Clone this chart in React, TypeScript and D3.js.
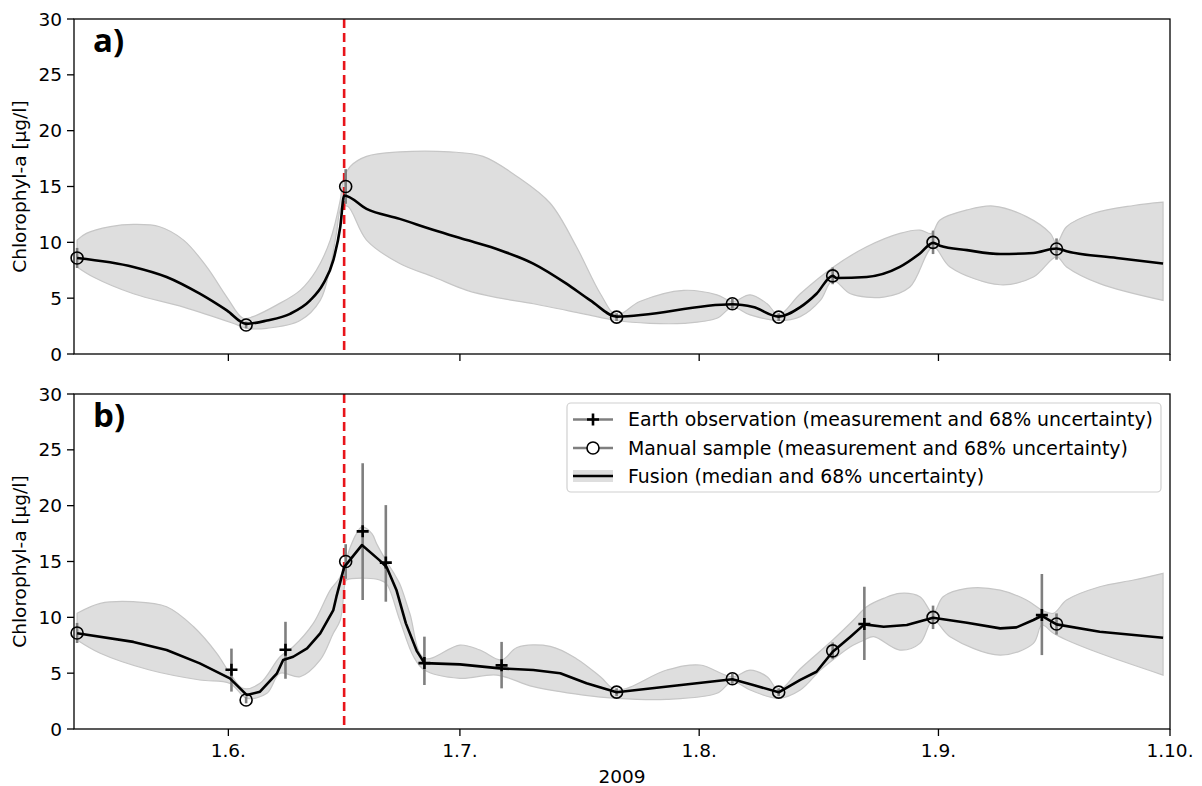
import React from "react";
import * as d3 from "d3";

// x values are day of year 2009 (fractional), y values chlorophyll-a in µg/l

const manualDoy = [132.4, 154.3, 167.2, 202.3, 217.3, 223.3, 230.3, 243.3, 259.3];
const manualVal = [8.6, 2.6, 15.0, 3.3, 4.5, 3.3, 7.0, 10.0, 9.4];
const manualErr = [0.9, 0.3, 1.55, 0.35, 0.45, 0.35, 0.75, 1.05, 0.95];

const eoDoy = [152.4, 159.4, 169.4, 172.4, 177.4, 187.4, 234.4, 257.4];
const eoVal = [5.3, 7.1, 17.7, 14.9, 5.9, 5.7, 9.4, 10.2];
const eoLow = [3.35, 4.5, 11.55, 11.4, 3.94, 3.64, 6.18, 6.62];
const eoHigh = [7.2, 9.6, 23.8, 20.05, 8.27, 7.8, 12.74, 13.88];

const bloomDoy = 167.0;

// panel a: fusion of manual samples only
const medianA: [number, number][] = [
  [132.4, 8.6], [139.7, 7.8], [144.0, 6.9], [148.3, 5.4], [151.8, 3.9], [154.3, 2.7],
  [157.0, 3.0], [160.0, 3.6], [162.6, 4.8], [164.3, 6.3], [165.6, 8.4], [166.5, 11.4],
  [167.0, 14.2], [169.9, 13.0], [174.2, 12.1], [178.6, 11.1], [182.9, 10.2], [187.2, 9.3],
  [191.5, 8.1], [195.8, 6.3], [198.9, 4.8], [202.3, 3.35], [217.3, 4.45], [220.0, 4.2],
  [223.3, 3.35], [226.1, 4.2], [228.2, 5.4], [230.3, 7.0], [230.8, 6.8], [234.7, 6.9],
  [239.0, 7.8], [241.6, 9.0], [243.3, 9.95], [244.2, 9.7], [247.7, 9.3], [252.0, 8.95],
  [256.3, 9.05], [259.3, 9.45], [260.6, 9.2], [267.1, 8.6], [273.1, 8.1],
];
const upperA: [number, number][] = [
  [132.4, 10.2], [133.6, 10.8], [136.7, 11.4], [139.7, 11.6], [143.1, 11.4], [146.2, 10.2],
  [149.2, 7.8], [151.8, 5.1], [153.9, 3.2], [155.2, 3.35], [158.3, 4.4], [161.3, 5.7],
  [163.4, 7.5], [165.2, 10.2], [166.5, 13.8], [166.9, 15.6], [167.8, 16.8], [169.9, 17.7],
  [174.2, 18.1], [180.7, 18.1], [185.0, 17.7], [189.4, 15.9], [193.7, 13.5], [197.1, 9.6],
  [200.2, 5.4], [202.3, 3.5], [205.3, 4.7], [211.0, 5.7], [215.3, 5.3], [217.3, 4.7],
  [219.6, 5.3], [221.8, 4.5], [223.3, 3.5], [226.1, 5.4], [230.4, 7.8], [234.7, 9.6],
  [239.0, 10.8], [241.6, 11.1], [243.1, 10.8], [244.2, 12.0], [247.7, 12.9], [251.1, 13.25],
  [255.4, 12.3], [258.5, 10.8], [259.3, 9.9], [260.6, 11.4], [264.1, 12.6], [269.3, 13.3],
  [273.1, 13.6],
];
const lowerA: [number, number][] = [
  [132.4, 7.8], [134.5, 6.9], [139.7, 5.4], [146.2, 4.2], [152.6, 2.75], [154.4, 2.3],
  [157.0, 2.3], [161.3, 3.0], [163.9, 4.8], [165.2, 7.8], [166.0, 10.8], [166.7, 13.2],
  [167.5, 13.2], [169.9, 10.2], [174.2, 8.1], [178.6, 6.9], [182.9, 5.7], [187.2, 5.0],
  [191.5, 4.5], [198.0, 3.6], [202.3, 3.0], [206.6, 2.75], [211.0, 2.75], [215.3, 3.2],
  [217.3, 4.2], [219.6, 3.5], [223.3, 3.0], [226.1, 3.35], [228.7, 4.8], [230.3, 6.6],
  [232.6, 5.4], [236.9, 5.1], [240.3, 6.0], [243.3, 9.6], [245.5, 7.8], [252.0, 6.2],
  [256.3, 6.9], [259.3, 8.7], [260.6, 7.8], [264.9, 6.3], [273.1, 4.8],
];

// panel b: fusion of manual samples and earth observation
const medianB: [number, number][] = [
  [132.4, 8.57], [139.7, 7.8], [144.0, 7.07], [148.3, 5.88], [152.2, 4.54], [154.4, 3.04],
  [156.1, 3.34], [158.3, 4.99], [159.1, 6.18], [160.4, 6.47], [162.2, 7.22], [163.9, 8.57],
  [165.6, 10.65], [166.0, 11.85], [167.0, 14.5], [169.3, 16.47], [171.6, 15.1], [172.5, 14.5],
  [173.8, 12.4], [175.0, 9.46], [176.4, 7.0], [177.4, 5.9], [182.0, 5.79], [187.2, 5.43],
  [191.5, 5.28], [195.0, 4.99], [198.4, 4.09], [202.3, 3.29], [217.3, 4.45], [220.0, 3.94],
  [223.3, 3.29], [226.1, 4.4], [228.2, 5.13], [230.3, 6.92], [232.6, 8.27], [234.4, 9.37],
  [236.9, 9.16], [239.9, 9.31], [243.3, 9.97], [247.7, 9.52], [252.0, 9.01], [254.1, 9.1],
  [256.3, 9.76], [257.4, 10.14], [259.3, 9.37], [264.9, 8.71], [273.1, 8.17],
];
const upperB: [number, number][] = [
  [132.4, 10.36], [135.4, 11.25], [139.7, 11.4], [144.0, 10.95], [147.5, 9.16], [150.5, 6.78],
  [152.2, 4.99], [153.9, 3.64], [156.1, 4.09], [158.7, 6.47], [160.4, 7.37], [163.0, 9.46],
  [165.2, 12.44], [166.5, 13.63], [167.8, 16.3], [168.6, 17.5], [169.3, 18.1], [170.6, 17.5],
  [171.2, 16.6], [172.5, 15.0], [173.4, 14.0], [174.2, 13.0], [175.5, 10.36], [177.4, 6.33],
  [182.0, 7.52], [184.6, 7.07], [187.4, 6.18], [189.4, 7.3], [193.7, 7.4], [197.1, 6.3],
  [200.2, 4.68], [202.3, 3.49], [208.8, 5.28], [213.1, 5.73], [217.3, 4.68], [219.6, 5.28],
  [221.8, 4.68], [223.3, 3.49], [226.1, 5.4], [230.3, 7.97], [233.0, 9.76], [234.7, 10.95],
  [236.9, 11.7], [239.0, 12.15], [241.6, 11.85], [243.3, 10.36], [244.6, 11.85], [247.7, 12.6],
  [252.0, 12.44], [255.4, 11.55], [257.4, 10.65], [258.9, 10.36], [260.6, 11.55], [264.9, 12.74],
  [269.3, 13.34], [273.1, 13.94],
];
const lowerB: [number, number][] = [
  [132.4, 7.97], [135.4, 6.78], [141.8, 5.28], [148.3, 4.39], [152.2, 4.09], [154.4, 2.75],
  [157.0, 3.2], [158.7, 4.99], [161.3, 4.68], [163.9, 6.18], [165.6, 8.57], [166.5, 9.76],
  [167.1, 13.0], [167.3, 13.34], [169.9, 13.5], [171.6, 13.34], [172.5, 13.0], [174.2, 9.76],
  [176.0, 6.47], [177.4, 5.28], [182.0, 4.54], [186.8, 4.83], [191.5, 3.79], [198.0, 3.04],
  [202.3, 2.75], [208.8, 2.66], [215.3, 3.2], [217.3, 4.24], [219.6, 3.49], [223.3, 2.75],
  [226.1, 3.49], [228.7, 5.28], [230.3, 6.18], [232.6, 7.37], [234.4, 7.97], [235.6, 8.27],
  [239.0, 7.07], [241.6, 7.67], [243.3, 9.76], [245.5, 8.27], [252.0, 6.62], [256.3, 7.67],
  [257.4, 9.31], [258.9, 8.57], [260.6, 7.97], [264.9, 6.78], [273.1, 4.83],
];

const tickDates = ["2009-06-01", "2009-07-01", "2009-08-01", "2009-09-01", "2009-10-01"];
const tickLabels = ["1.6.", "1.7.", "1.8.", "1.9.", "1.10."];
const yTicks = [0, 5, 10, 15, 20, 25, 30];

const legendLabels = [
  "Earth observation (measurement and 68% uncertainty)",
  "Manual sample (measurement and 68% uncertainty)",
  "Fusion (median and 68% uncertainty)",
];

const FONT = "DejaVu Sans, sans-serif";
const GRAY = "#7f7f7f";

const doyDate = (doy: number) => new Date(Date.UTC(2009, 0, 1) + (doy - 1) * 864e5);

const x = d3.scaleUtc().domain([doyDate(132), doyDate(274)]).range([74, 1170]);

function Panel({ top, bottom, label, median, upper, lower, medCurve, showEo, showLegend, showXLabels }: any) {
  const y = d3.scaleLinear().domain([0, 30]).range([bottom, top]);
  const smooth = d3.line<[number, number]>().x(d => x(doyDate(d[0]))).y(d => y(d[1]))
    .curve(d3.curveCatmullRom.alpha(0.5));
  const medLine = d3.line<[number, number]>().x(d => x(doyDate(d[0]))).y(d => y(d[1]))
    .curve(medCurve);
  // upper edge left to right, then lower edge right to left, straight ends
  const up = smooth(upper) || "";
  const lowRev = smooth(lower.slice().reverse()) || "";
  const band = up + "L" + lowRev.slice(1) + "Z";
  const [x0, x1] = x.range();
  const bx = x(doyDate(bloomDoy));

  return (
    <g>
      <path d={band} fill="#dedede" stroke="#c6c6c6" strokeWidth={1.2} />
      <line x1={bx} x2={bx} y1={top} y2={bottom} stroke="#e8141a" strokeWidth={2.6} strokeDasharray="9,5" />
      {manualDoy.map((d, i) => (
        <line key={"me" + i} x1={x(doyDate(d))} x2={x(doyDate(d))}
          y1={y(manualVal[i] - manualErr[i])} y2={y(manualVal[i] + manualErr[i])}
          stroke={GRAY} strokeWidth={2.6} />
      ))}
      {showEo && eoDoy.map((d, i) => (
        <line key={"ee" + i} x1={x(doyDate(d))} x2={x(doyDate(d))}
          y1={y(eoLow[i])} y2={y(eoHigh[i])} stroke={GRAY} strokeWidth={2.6} />
      ))}
      <path d={medLine(median) || ""} fill="none" stroke="#000" strokeWidth={2.6} strokeLinejoin="round" />
      {manualDoy.map((d, i) => (
        <circle key={"mc" + i} cx={x(doyDate(d))} cy={y(manualVal[i])} r={6}
          fill="none" stroke="#000" strokeWidth={1.6} />
      ))}
      {showEo && eoDoy.map((d, i) => {
        const cx = x(doyDate(d)), cy = y(eoVal[i]);
        return (
          <path key={"ep" + i} d={`M${cx - 6},${cy}H${cx + 6}M${cx},${cy - 6}V${cy + 6}`}
            stroke="#000" strokeWidth={2.6} />
        );
      })}
      <rect x={x0} y={top} width={x1 - x0} height={bottom - top} fill="none" stroke="#000" strokeWidth={1.3} />
      {yTicks.map(t => (
        <g key={"yt" + t}>
          <line x1={x0 - 7} x2={x0} y1={y(t)} y2={y(t)} stroke="#000" strokeWidth={1.3} />
          <text x={x0 - 12} y={y(t)} dy="0.36em" textAnchor="end" fontSize={18.5} fontFamily={FONT}>{t}</text>
        </g>
      ))}
      {tickDates.map((s, i) => {
        const tx = x(d3.utcParse("%Y-%m-%d")(s) as Date);
        return (
          <g key={"xt" + i}>
            <line x1={tx} x2={tx} y1={bottom} y2={bottom + 7} stroke="#000" strokeWidth={1.3} />
            {showXLabels && (
              <text x={tx} y={bottom + 28} textAnchor="middle" fontSize={18.5} fontFamily={FONT}>{tickLabels[i]}</text>
            )}
          </g>
        );
      })}
      <text transform={`translate(26,${(top + bottom) / 2}) rotate(-90)`} textAnchor="middle"
        fontSize={18.5} fontFamily={FONT}>Chlorophyl-a [µg/l]</text>
      <text x={93} y={top + 33} fontSize={33} fontWeight={700} fontFamily="Open Sans, sans-serif">{label}</text>
      {showLegend && <Legend />}
    </g>
  );
}

function Legend() {
  const lx = 567, ly = 403, rows = [419.5, 448, 476];
  const hx0 = 573, hx1 = 613, hm = 593;
  return (
    <g>
      <rect x={lx} y={ly} width={594} height={89} rx={4} fill="#fff" fillOpacity={0.8} stroke="#d0d0d0" strokeWidth={1.2} />
      <line x1={hx0} x2={hx1} y1={rows[0]} y2={rows[0]} stroke={GRAY} strokeWidth={2.6} />
      <path d={`M${hm - 6},${rows[0]}H${hm + 6}M${hm},${rows[0] - 6}V${rows[0] + 6}`} stroke="#000" strokeWidth={2.6} />
      <line x1={hx0} x2={hx1} y1={rows[1]} y2={rows[1]} stroke={GRAY} strokeWidth={2.6} />
      <circle cx={hm} cy={rows[1]} r={6} fill="#fff" stroke="#000" strokeWidth={1.6} />
      <rect x={hx0} y={rows[2] - 6} width={hx1 - hx0} height={12} fill="#dedede" />
      <line x1={hx0} x2={hx1} y1={rows[2]} y2={rows[2]} stroke="#000" strokeWidth={2.6} />
      {legendLabels.map((t, i) => (
        <text key={t} x={628} y={rows[i] + 6.5} fontSize={18.9} fontFamily={FONT}>{t}</text>
      ))}
    </g>
  );
}

export default function App() {
  return (
    <svg width={1202} height={786} style={{ position: "absolute", left: 0, top: 0, background: "#fff" }}>
      <Panel top={19} bottom={354} label="a)" median={medianA} upper={upperA} lower={lowerA}
        medCurve={d3.curveMonotoneX} showEo={false} showLegend={false} showXLabels={false} />
      <Panel top={394} bottom={729} label="b)" median={medianB} upper={upperB} lower={lowerB}
        medCurve={d3.curveLinear} showEo={true} showLegend={true} showXLabels={true} />
      <text x={622} y={783} textAnchor="middle" fontSize={18.5} fontFamily={FONT}>2009</text>
    </svg>
  );
}
